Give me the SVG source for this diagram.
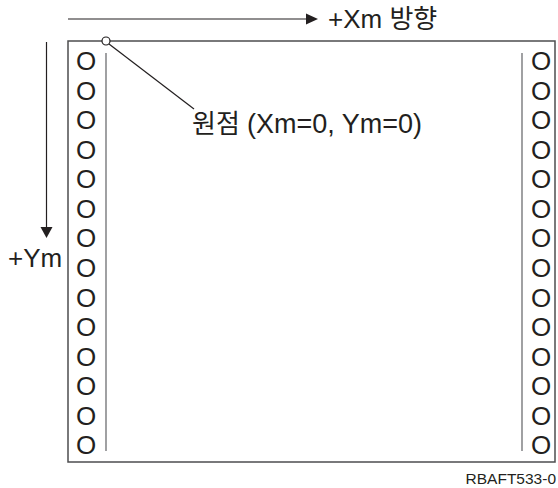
<svg xmlns="http://www.w3.org/2000/svg" width="558" height="488" viewBox="0 0 558 488">
<style>
  .t { font-family: "Liberation Sans", "Noto Sans CJK KR", Arial, sans-serif; fill: #231f20; }
  .big { font-size: 26px; }
  .hole { font-size: 26px; text-anchor: middle; }
  .frame { fill: #ffffff; stroke: #4d4d4f; stroke-width: 1.5; }
  .inner { stroke: #6d6e71; stroke-width: 1.3; fill: none; }
  .ln { stroke: #231f20; stroke-width: 1.2; fill: none; }
</style>
<rect width="558" height="488" fill="#ffffff"/>
<g id="paper">
  <rect class="frame" x="68" y="41" width="487" height="421"/>
  <line class="inner" x1="106" y1="53" x2="106" y2="451"/>
  <line class="inner" x1="522" y1="53" x2="522" y2="451"/>
</g>
<g id="holes-left">
  <text class="t hole" x="86" y="70">O</text>
  <text class="t hole" x="86" y="99.5">O</text>
  <text class="t hole" x="86" y="129">O</text>
  <text class="t hole" x="86" y="158.5">O</text>
  <text class="t hole" x="86" y="188">O</text>
  <text class="t hole" x="86" y="217.5">O</text>
  <text class="t hole" x="86" y="247">O</text>
  <text class="t hole" x="86" y="277">O</text>
  <text class="t hole" x="86" y="306.5">O</text>
  <text class="t hole" x="86" y="336">O</text>
  <text class="t hole" x="86" y="365.5">O</text>
  <text class="t hole" x="86" y="395">O</text>
  <text class="t hole" x="86" y="424.5">O</text>
  <text class="t hole" x="86" y="454">O</text>
</g>
<g id="holes-right">
  <text class="t hole" x="541" y="70">O</text>
  <text class="t hole" x="541" y="99.5">O</text>
  <text class="t hole" x="541" y="129">O</text>
  <text class="t hole" x="541" y="158.5">O</text>
  <text class="t hole" x="541" y="188">O</text>
  <text class="t hole" x="541" y="217.5">O</text>
  <text class="t hole" x="541" y="247">O</text>
  <text class="t hole" x="541" y="277">O</text>
  <text class="t hole" x="541" y="306.5">O</text>
  <text class="t hole" x="541" y="336">O</text>
  <text class="t hole" x="541" y="365.5">O</text>
  <text class="t hole" x="541" y="395">O</text>
  <text class="t hole" x="541" y="424.5">O</text>
  <text class="t hole" x="541" y="454">O</text>
</g>
<g id="connectors">
  <line class="ln" x1="68" y1="19" x2="307" y2="19"/>
  <polygon points="306,13.5 306,24.5 318,19" fill="#231f20"/>
  <line class="ln" x1="46.5" y1="42" x2="46.5" y2="228"/>
  <polygon points="40.5,227 52.5,227 46.5,238" fill="#231f20"/>
  <line class="ln" x1="109" y1="44" x2="194" y2="109" stroke-width="1"/>
</g>
<g id="origin">
  <circle cx="106" cy="41" r="4" fill="#ffffff" stroke="#231f20" stroke-width="1.2"/>
</g>
<g id="labels">
  <text class="t big" x="328" y="28">+Xm 방향</text>
  <text class="t big" x="8" y="267">+Ym</text>
  <text class="t big" x="192" y="133">원점 <tspan x="247" font-size="27">(Xm=0, Ym=0)</tspan></text>
  <text class="t" x="556" y="484" font-size="15.5" text-anchor="end">RBAFT533-0</text>
</g>
</svg>
